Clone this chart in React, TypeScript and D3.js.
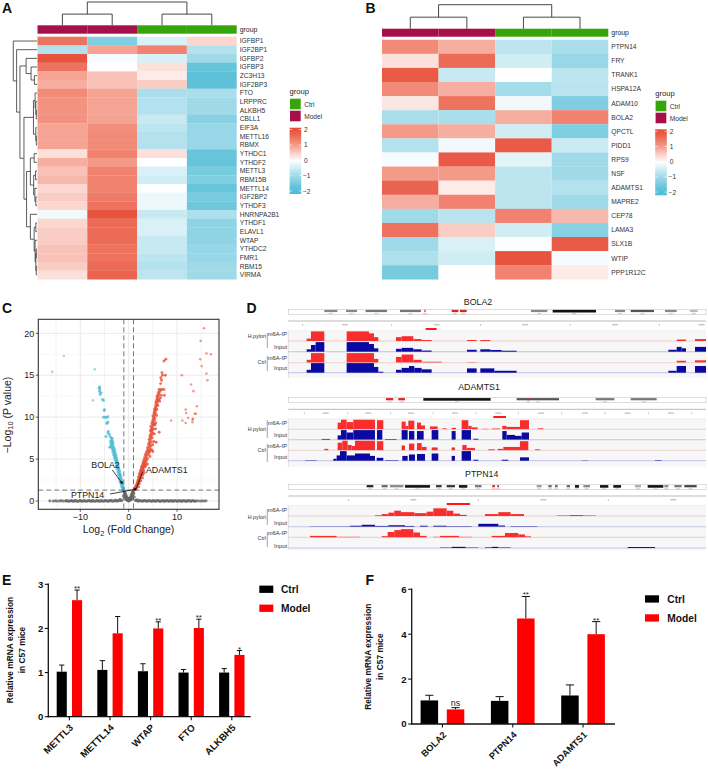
import React from "react";
import * as d3 from "d3";

const FONT = "'Liberation Sans', Arial, sans-serif";
const COL_BLUE = "#4DBBD5";
const COL_RED = "#E64B35";
const GROUP_COLORS: Record<string, string> = { Ctrl: "#36A50C", Model: "#A5104A" };

// ---------- Panel A ----------
const genesA = ["IGFBP1","IGF2BP1","IGFBP2","IGFBP3","ZC3H13","IGF2BP3","FTO","LRPPRC","ALKBH5","CBLL1","EIF3A","METTL16","RBMX","YTHDC1","YTHDF2","METTL3","RBM15B","METTL14","IGF2BP2","YTHDF3","HNRNPA2B1","YTHDF1","ELAVL1","WTAP","YTHDC2","FMR1","RBM15","VIRMA"];
const valuesA = [
  [1.5,-1.4,-0.4,0.4],[-0.8,0.9,1.3,-0.8],[1.9,-0.1,-0.4,-1.0],[1.5,0.02,0.3,-1.7],[0.9,0.6,0.2,-1.8],[0.8,0.6,0.5,-1.8],
  [1.2,0.9,-0.9,-0.9],[1.1,0.9,-0.8,-1.0],[1.1,0.9,-0.8,-1.0],[1.1,0.9,-0.6,-1.3],[0.9,1.15,-0.7,-1.1],[0.9,1.2,-0.8,-1.1],[0.9,1.2,-0.8,-1.1],
  [0.3,1.3,0.3,-1.7],[0.8,1.0,-0.02,-1.7],[0.6,1.3,-0.4,-1.5],[0.7,1.3,-0.5,-1.4],[0.4,1.3,-0.02,-1.7],[0.5,1.4,-0.2,-1.5],[0.4,1.5,-0.2,-1.6],
  [-0.15,1.9,-0.6,-0.85],[0.4,1.6,-0.4,-1.2],[0.5,1.6,-0.4,-1.2],[0.5,1.6,-0.6,-1.2],[0.6,1.5,-0.6,-1.1],[0.6,1.5,-0.7,-1.1],[0.5,1.6,-0.8,-1.0],[0.3,1.7,-0.7,-1.0],
];
const columnGroups = ["Model","Model","Ctrl","Ctrl"];
type Tree = string | number | { h: number; c: Tree[] };
const T = (h: number, ...c: Tree[]): Tree => ({ h, c });
const rowTreeA: Tree = T(1,"IGFBP1",T(0.86,"IGF2BP1",T(0.72,
  T(0.46,"IGFBP2",T(0.25,"IGFBP3",T(0.11,"ZC3H13","IGF2BP3"))),
  T(0.55,
    T(0.15,T(0.08,"FTO",T(0.05,"LRPPRC",T(0.03,"ALKBH5","CBLL1"))),T(0.05,"EIF3A",T(0.03,"METTL16","RBMX"))),
    T(0.44,
      T(0.28,T(0.12,"YTHDC1","YTHDF2"),T(0.14,T(0.06,"METTL3","RBM15B"),T(0.09,"METTL14",T(0.05,"IGF2BP2","YTHDF3")))),
      T(0.28,"HNRNPA2B1",T(0.12,T(0.05,"YTHDF1","ELAVL1"),T(0.08,"WTAP",T(0.05,T(0.03,"YTHDC2","FMR1"),T(0.03,"RBM15","VIRMA")))))
    )
  )
)));
const colTree: Tree = T(1,T(0.48,0,1),T(0.48,2,3));

// ---------- Panel B ----------
const genesB = ["PTPN14","FRY","TRANK1","HSPA12A","ADAM10","BOLA2","QPCTL","PIDD1","RPS9","NSF","ADAMTS1","MAPRE2","CEP78","LAMA3","SLX1B","WTIP","PPP1R12C"];
const valuesB = [
  [1.2,0.8,-0.7,-0.9],[0.3,1.6,-0.5,-1.1],[1.8,-0.6,0,-0.7],[1.2,0.8,-0.95,-0.75],[0.25,1.5,-0.15,-1.4],[-0.9,-0.9,0.8,1.3],
  [1.0,0.8,-0.5,-1.4],[-0.8,-0.15,1.8,-0.55],[-0.1,1.8,-0.3,-1.0],[1.0,1.0,-0.7,-1.0],[1.7,0.2,-0.7,-0.8],[0.8,1.3,-0.7,-1.0],
  [-1.0,-0.75,1.3,0.7],[1.5,0.5,-0.5,-1.3],[-1.0,-0.4,-0.05,1.8],[-0.85,-0.5,1.9,-0.1],[-1.5,0.02,1.3,0.2],
];
const legendTicks = [2,1,0,-1,-2];

// ---------- Panel C ----------
const xTicksC = [-10,0,10];
const yTicksC = [0,5,10,15,20];
const upOutliers: [number,number][] = [[15.6,20.6],[14.9,19.1],[16.1,17.6],[17,17.5],[14.8,16.9],[15.1,16.1],[16.1,15.2],[16.3,14.4],[11,15],[12.9,13.9],[13.4,13.1],[11.8,10.9],[11.9,10.5],[14.1,11.3],[13.7,10.4],[13.9,10.4],[12.3,9.9],[13.2,9.7],[11.1,9.6],[11.8,9.3],[13.2,9.4],[13.3,9.8],[8.8,9.6]];
const upArm: [number,number][] = [[1.05,1.32],[1.2,1.35],[1.35,1.4],[1.5,1.45],[1.2,1.5],[1.4,1.6],[1.6,1.55],[1.75,1.7],[1.45,1.75],[1.6,1.85],[1.85,1.9],[1.7,2.0],[1.95,2.05],[2.1,2.1],[1.8,2.2],[2.0,2.3],[2.2,2.35],[1.9,2.45],[2.3,2.5],[2.1,2.6],[2.4,2.7],[2.2,2.8],[2.0,2.85],[2.5,2.95],[2.3,3.05],[2.6,3.1],[2.4,3.2],[2.2,3.25],[2.7,3.3],[2.5,3.4],[2.8,3.5],[2.4,3.6],[2.65,3.65],[2.9,3.75],[2.6,3.85],[3.0,3.9],[2.8,4.0],[3.2,4.05],[2.7,4.15],[3.0,4.25],[3.3,4.3],[2.9,4.4],[3.2,4.5],[3.5,4.55],[3.0,4.65],[3.35,4.75],[3.7,4.8],[3.15,4.9],[3.5,5.0],[3.9,5.05],[3.3,5.15],[3.65,5.25],[4.4,5.3],[3.45,5.45],[3.85,5.5],[4.15,5.6],[3.6,5.7],[4.0,5.8],[3.75,5.95],[4.3,6.0],[4.0,6.15],[4.5,6.2],[3.9,6.35],[4.25,6.45],[4.6,6.55],[4.1,6.7],[4.45,6.8],[4.2,6.95],[4.7,7.05],[4.4,7.2],[4.25,7.35],[4.6,7.45],[4.85,7.55],[4.4,7.7],[4.7,7.8],[4.55,7.95],[5.0,8.05],[4.75,8.2],[4.5,8.35],[4.9,8.4],[4.65,8.55],[5.1,8.6],[4.85,8.75],[4.6,8.9],[5.0,9.0],[5.2,9.1],[4.8,9.25],[5.1,9.35],[4.95,9.5],[5.3,9.6],[5.05,9.75],[5.4,9.85],[5.2,10.0],[5.0,10.15],[5.4,10.25],[5.25,10.4],[5.55,10.5],[5.3,10.65],[5.5,10.8],[5.35,10.95],[5.7,11.05],[5.5,11.2],[5.8,11.35],[5.6,11.5],[5.85,11.65],[5.65,11.8],[6.0,11.9],[5.8,12.05],[6.3,12.1],[6.0,12.2],[5.85,12.4],[6.15,12.5],[6.0,12.65],[6.3,12.75],[6.75,12.6],[6.15,12.95],[6.45,13.05],[6.6,13.25],[6.3,13.3],[7.3,13.3],[6.85,13.3],[7.4,12.6],[6.6,14],[6.8,14.4],[6.65,14.7],[7.0,15],[6.9,15.3],[7.6,15],[7.3,16.7],[7.7,16.9],[5.2,7.1],[6.3,8.2],[5.6,9.3],[3.1,3.6],[3.45,4.1],[2.2,2.1],[2.9,3.1],[5.0,5.9],[5.7,7.0],[3.9,4.4],[4.8,6.1],[5.0,6.7],[5.3,8.0],[5.55,8.6],[5.8,10.2],[5.85,10.9],[6.05,11.4],[6.4,11.9],[6.6,12.3],[5.45,9.1],[4.4,5.9],[3.6,4.3],[2.05,1.7],[2.5,2.4],[2.85,2.75],[3.2,3.35]];
const downOutliers: [number,number][] = [[-13.4,17.3],[-15.8,15.4],[-7,15.7],[-7.4,12]];
const downArm: [number,number][] = [[-1.05,1.32],[-1.15,1.5],[-1.25,1.4],[-1.1,1.65],[-1.3,1.75],[-1.2,1.9],[-1.4,1.95],[-1.3,2.1],[-1.5,2.15],[-1.4,2.3],[-1.6,2.4],[-1.5,2.5],[-1.7,2.6],[-1.55,2.75],[-1.8,2.85],[-1.65,2.95],[-1.85,3.1],[-1.75,3.2],[-1.95,3.3],[-1.85,3.45],[-2.05,3.55],[-1.95,3.7],[-2.15,3.8],[-2.05,3.95],[-2.25,4.05],[-2.15,4.2],[-2.35,4.3],[-2.25,4.45],[-2.45,4.55],[-2.35,4.7],[-2.55,4.8],[-2.45,4.95],[-2.7,5.05],[-2.55,5.2],[-2.75,5.3],[-2.65,5.45],[-2.9,5.5],[-2.75,5.65],[-3.0,5.75],[-2.85,5.9],[-3.1,6.0],[-2.95,6.15],[-3.3,6.2],[-3.05,6.35],[-3.9,6.4],[-3.6,6.45],[-3.2,6.55],[-3.4,6.7],[-3.7,6.6],[-3.25,6.85],[-3.5,6.95],[-3.3,7.1],[-3.55,7.25],[-3.4,7.45],[-4.7,7.7],[-4.3,8.1],[-4.0,7.95],[-4.2,8.3],[-4.5,9.3],[-4.3,9.4],[-4.5,9.25],[-5.2,10],[-4.9,10],[-4.6,9.95],[-4.3,10.05],[-5.0,10.9],[-5.05,10.8],[-5.2,12],[-5.4,12.1],[-5.9,12.7],[-5.7,12.9],[-6,13.6],[-6.1,13.45],[-5.95,13.25],[-6.05,13.05],[-1.2,1.35],[-1.45,1.7],[-1.6,2.05],[-1.8,2.3],[-1.95,2.7],[-2.1,3.1],[-2.25,3.45],[-2.4,3.85],[-2.55,4.2],[-2.7,4.55],[-2.8,4.9],[-2.95,5.2],[-3.1,5.5],[-3.25,5.8],[-3.35,6.1],[-3.5,6.4],[-3.65,6.85],[-3.75,7.1],[-3.6,7.5],[-3.85,7.7]];
const grayPoints: [number,number][] = [[-16.3,0.02],[-15.6,0],[-15.2,0.03],[-14.8,0],[-14.3,0.01],[-13.9,0.04],[-13.5,0],[-13,0.02],[-12.6,0],[-12.1,0.03],[-11.7,0],[-11.2,0.02],[-10.8,0.01],[-10.3,0],[-9.9,0.03],[-9.4,0],[-9,0.02],[-8.5,0],[-8.1,0.04],[-7.6,0.01],[-7.2,0],[-6.7,0.03],[-6.3,0],[-5.8,0.02],[-5.4,0],[-4.9,0.05],[-4.5,0],[-4,0.02],[-3.6,0.08],[-3.1,0],[-2.7,0.1],[-2.2,0.05],[-1.8,0.2],[-1.4,0.1],[-1.1,0.6],[-0.95,1.25],[-0.9,1.05],[-0.85,0.85],[-0.8,1.1],[-0.75,0.7],[-0.7,0.9],[-0.65,0.55],[-0.6,0.75],[-0.55,0.4],[-0.5,0.6],[-0.45,0.25],[-0.4,0.45],[-0.35,0.15],[-0.3,0.3],[-0.25,0.1],[-0.2,0.2],[-0.1,0.05],[-0.6,0.2],[-0.8,0.4],[0,0.02],[0.1,0.06],[0.2,0.2],[0.25,0.1],[0.3,0.3],[0.35,0.15],[0.4,0.45],[0.45,0.25],[0.5,0.6],[0.55,0.4],[0.6,0.75],[0.65,0.55],[0.7,0.9],[0.75,0.7],[0.8,1.1],[0.85,0.85],[0.9,1.05],[0.95,1.25],[1.05,0.9],[1.15,0.5],[0.6,0.2],[0.8,0.4],[1.4,0.1],[1.8,0.15],[2.2,0.05],[2.7,0],[3.1,0.06],[3.6,0],[4,0.03],[4.5,0],[4.9,0.02],[5.4,0],[5.8,0.03],[6.3,0.01],[6.7,0],[7.2,0.02],[7.6,0],[8.1,0.03],[8.5,0.01],[9,0],[9.4,0.02],[9.9,0],[10.3,0.03],[10.8,0],[11.2,0.02],[11.7,0],[12.1,0.01],[12.6,0.03],[13,0],[13.5,0.02],[13.9,0],[14.3,0.03],[14.8,0],[15.2,0.02],[15.6,0],[16,0.03],[-0.05,0.12],[0.05,0.2],[-0.15,0.3],[0.15,0.35],[-12.85,0.05],[-12.35,-0.03],[-11.9,0.06],[-11.45,-0.02],[-11,0.05],[-10.55,-0.03],[-10.1,0.06],[-9.65,-0.02],[-9.2,0.05],[-8.75,-0.03],[-8.3,0.06],[-7.85,-0.02],[-7.4,0.05],[-6.95,-0.03],[-6.5,0.06],[-6.05,-0.02],[-5.6,0.05],[-5.15,-0.03],[-4.7,0.06],[-4.25,-0.02],[-3.85,0.05],[-3.35,-0.03],[-2.9,0.06],[-2.45,-0.02],[-2,0.05],[-1.6,0.04],[1.6,0.05],[2,-0.02],[2.45,0.06],[2.9,-0.03],[3.35,0.05],[3.8,-0.02],[4.25,0.06],[4.7,-0.03],[5.15,0.05],[5.6,-0.02],[6.05,0.06],[6.5,-0.03],[6.95,0.05],[7.4,-0.02],[7.85,0.06],[8.3,-0.03],[8.75,0.05],[9.2,-0.02],[9.65,0.06],[10.1,-0.03],[10.55,0.05],[11,-0.02],[11.45,0.06],[11.9,-0.03],[12.35,0.05],[12.85,-0.02],[13.3,0.06],[13.7,-0.03]];
const labeledGenes = [
  { name: "BOLA2", x: -1.45, y: 2.2 },
  { name: "ADAMTS1", x: 1.55, y: 1.45 },
  { name: "PTPN14", x: 1.35, y: 1.4 },
];

// ---------- Panel D ----------
type Seg = [number, number, number];
type Band = [number, number, string];
const genomeDomain = [100, 1353];
const bolaIdeogram: Band[] = [[208,247,"#888"],[273,306,"#888"],[332,396,"#777"],[435,498,"#777"],[508,512,"#e33"],[590,610,"#d22"],[615,635,"#d22"],[828,877,"#888"],[893,1023,"#111"],[1080,1110,"#888"],[1127,1197,"#555"],[1230,1265,"#888"],[1305,1328,"#bbb"]];
const adamIdeogram: Band[] = [[393,415,"#d22"],[430,450,"#d22"],[505,707,"#111"],[785,912,"#555"],[818,822,"#d22"],[1022,1078,"#777"],[1127,1205,"#777"]];
const ptpnIdeogram: Band[] = [[335,355,"#222"],[380,398,"#666"],[405,445,"#888"],[450,525,"#111"],[543,560,"#333"],[575,600,"#333"],[612,637,"#111"],[660,680,"#777"],[712,720,"#d22"],[727,732,"#d22"],[845,860,"#999"],[880,890,"#666"],[900,908,"#666"],[935,945,"#666"],[960,972,"#111"],[985,1005,"#888"],[1035,1060,"#111"],[1075,1098,"#111"],[1140,1158,"#aaa"],[1178,1225,"#111"],[1228,1240,"#888"],[1258,1280,"#777"],[1288,1325,"#444"]];
const bolaRuler = [143,410,677,945,1213];
const bolaRulerDash = [270,545,810,1080,1340];
const adamRuler = [148,278,407,535,663,790,920,1050,1180,1310];
const adamRulerDash = [212,340,468,600,730,858,990,1118,1248];
const ptpnRuler = [281,670,1060];
const ptpnRulerDash = [475,865,1255];
const bolaHpIp: Seg[] = [[155,168,.25],[168,208,1],[275,342,1],[342,357,.8],[357,370,.4],[423,440,.4],[440,475,.5],[475,500,.2],[500,530,.1],[636,665,.1],[676,706,.1],[1265,1293,.15],[1320,1353,.2]];
const bolaHpIn: Seg[] = [[155,168,.25],[168,182,.7],[182,208,1],[275,342,1],[342,357,.8],[357,370,.35],[423,440,.3],[440,475,.4],[475,500,.25],[500,530,.12],[636,665,.2],[676,706,.25],[706,740,.18],[740,785,.1],[1240,1265,.2],[1265,1280,.5],[1280,1293,.35],[1320,1353,.5]];
const bolaCtIp: Seg[] = [[155,168,.3],[168,208,1],[275,357,1],[357,370,.4],[423,440,.6],[440,475,.85],[475,500,.3],[500,560,.1],[636,665,.05],[1265,1293,.2],[1320,1353,.25]];
const bolaCtIn: Seg[] = [[155,168,.3],[168,208,1],[275,357,1],[357,370,.6],[370,385,.1],[423,440,.3],[440,462,.5],[462,478,.7],[478,500,.5],[500,530,.35],[636,665,.45],[676,718,.45],[718,785,.2],[1240,1265,.2],[1265,1293,.7],[1320,1353,.7]];
const adamHpIp: Seg[] = [[248,258,.7],[258,275,1],[275,295,.75],[295,360,1],[366,385,.95],[440,452,.8],[452,460,.35],[460,478,.9],[486,498,.7],[498,510,.4],[525,548,.3],[562,575,.1],[590,603,.15],[620,640,.95],[640,650,.35],[650,668,.2],[680,700,.05],[710,735,.08],[742,755,.35],[755,795,.25],[795,822,.95],[848,865,.1]];
const adamHpIn: Seg[] = [[200,225,.08],[248,258,.45],[258,275,1],[275,295,.75],[295,360,1],[366,382,1],[390,425,.07],[440,458,1],[462,478,.9],[486,506,.9],[530,550,1],[590,602,.9],[620,648,1],[655,670,.1],[742,755,.9],[755,780,.5],[780,800,.4],[800,822,.75]];
const adamCtIp: Seg[] = [[208,220,.15],[248,262,.8],[262,278,1],[278,290,.55],[290,300,.45],[300,360,1],[366,385,.95],[440,450,.5],[462,478,.7],[486,500,.75],[500,515,.35],[530,548,.3],[590,600,.3],[622,635,.55],[635,660,.25],[700,720,.1],[728,745,.15],[745,795,.35],[795,820,.95],[840,855,.1]];
const adamCtIn: Seg[] = [[150,185,.04],[235,245,.2],[245,255,.55],[255,275,1],[275,300,.55],[300,345,.75],[345,360,.5],[365,385,.3],[390,430,.05],[442,458,.5],[462,480,.65],[486,510,.7],[530,550,.75],[590,600,.5],[620,648,1],[655,670,.1],[740,760,.1],[795,822,.35],[980,1000,.03],[1200,1220,.05]];
const ptpnHpIp: Seg[] = [[360,380,.07],[380,400,.2],[400,418,.35],[418,438,.55],[438,478,.4],[478,515,.3],[515,535,.45],[535,575,.8],[575,595,.55],[595,615,.25],[615,635,.12],[690,730,.2],[730,767,.4],[767,807,.2],[905,945,.05],[945,985,.1],[985,1022,.05]];
const ptpnHpIn: Seg[] = [[165,285,.03],[285,320,.1],[320,360,.2],[360,400,.08],[400,450,.15],[450,478,.08],[495,518,.1],[535,575,.1],[575,650,.05],[670,730,.3],[730,750,.12],[767,847,.05]];
const ptpnCtIp: Seg[] = [[165,245,.15],[245,315,.05],[380,398,.12],[398,418,.55],[418,438,.75],[438,475,.85],[475,495,.5],[495,515,.15],[535,555,.05],[555,612,.15],[612,650,.05],[710,750,.15],[750,790,.45],[790,810,.3],[810,828,.1]];
const ptpnCtIn: Seg[] = [[555,590,.04],[590,632,.12],[632,670,.04],[690,710,.06],[710,730,.12],[730,767,.05],[1118,1200,.1]];

// ---------- Panels E, F ----------
const catsE = ["METTL3","METTL14","WTAP","FTO","ALKBH5"];
const ctrlE = [1.02,1.06,1.03,1.0,1.0];
const ctrlErrE = [1.17,1.27,1.2,1.07,1.09];
const modelE = [2.64,1.89,2.0,2.01,1.4];
const modelErrE = [2.87,2.27,2.15,2.21,1.5];
const sigE = ["**","","**","**","*"];
const ticksE = [0,1,2,3];
const catsF = ["BOLA2","PTPN14","ADAMTS1"];
const ctrlF = [1.05,1.03,1.27];
const ctrlErrF = [1.28,1.22,1.74];
const modelF = [0.65,4.7,4.0];
const modelErrF = [0.73,5.68,4.56];
const sigF = ["ns","**","**"];
const ticksF = [0,2,4,6];

const heatColor = d3.scaleLinear<string>().domain([-2,-1,0,1,2]).range([COL_BLUE,"#A0DAE9","#FFFFFF","#F49A88",COL_RED]).clamp(true);
const fmt = (v: number) => (v < 0 ? "\u2212" + Math.abs(v) : String(v));

// Elbow dendrogram; pos gives the leaf coordinate, hs the height coordinate
function dendroPath(tree: Tree, pos: (leaf: any) => number, hs: (h: number) => number, horizontal: boolean) {
  const p = d3.path();
  const line = (a: number, ah: number, b: number, bh: number) => {
    if (horizontal) { p.moveTo(a, ah); p.lineTo(b, bh); } else { p.moveTo(ah, a); p.lineTo(bh, b); }
  };
  const walk = (n: Tree): [number, number] => {
    if (typeof n !== "object") return [pos(n), hs(0)];
    const kids = n.c.map(walk);
    const h = hs(n.h);
    const first = kids[0][0], last = kids[kids.length - 1][0];
    kids.forEach(([c, ch]) => line(c, ch, c, h));
    line(first, h, last, h);
    return [(first + last) / 2, h];
  };
  walk(tree);
  return p.toString();
}

function HeatLegend({ x, titleY, swY, cbTop, cbBottom, zeroY, unit }: any) {
  const yS = d3.scaleLinear().domain([0, 1]).range([zeroY, zeroY - unit]);
  const id = `cb${Math.round(x)}`;
  const h = cbBottom - cbTop;
  const vTop = (zeroY - cbTop) / unit, vBot = (zeroY - cbBottom) / unit;
  return (
    <g fontFamily={FONT}>
      <text x={x} y={titleY} fontSize={7.6} fill="#222">group</text>
      {["Ctrl","Model"].map((g, i) => (
        <g key={g}>
          <rect x={x + 0.4} y={swY + i * 12} width={10.7} height={10.6} fill={GROUP_COLORS[g]} />
          <text x={x + 14.6} y={swY + i * 12 + 8} fontSize={6.6} fill="#333">{g}</text>
        </g>
      ))}
      <defs>
        <linearGradient id={id} x1="0" y1="0" x2="0" y2="1">
          {d3.range(0, 11).map((i) => {
            const v = vTop + (vBot - vTop) * (i / 10);
            return <stop key={i} offset={`${i * 10}%`} stopColor={heatColor(v)} />;
          })}
        </linearGradient>
      </defs>
      <rect x={x} y={cbTop} width={11.6} height={h} fill={`url(#${id})`} />
      {legendTicks.map((t) => (
        <g key={t}>
          <line x1={x} x2={x + 2.3} y1={yS(t)} y2={yS(t)} stroke="#fff" strokeWidth={0.6} />
          <line x1={x + 9.3} x2={x + 11.6} y1={yS(t)} y2={yS(t)} stroke="#fff" strokeWidth={0.6} />
          <text x={t < 0 ? x + 13.4 : x + 14.5} y={yS(t) + 2.4} fontSize={6.6} fill="#333">{fmt(t)}</text>
        </g>
      ))}
    </g>
  );
}

function Heatmap({ genes, values, x0, x1, annTop, annBottom, rowTop, rowBottom, colTreeTop, leafRowTree, fontSize }: any) {
  const xS = d3.scaleBand<number>().domain(d3.range(4)).range([x0, x1]);
  const yS = d3.scaleBand<string>().domain(genes).range([rowTop, rowBottom]);
  const colHs = d3.scaleLinear().domain([0, 1]).range([annTop, colTreeTop]);
  const cx = (i: number) => (xS(i) as number) + xS.bandwidth() / 2;
  return (
    <g fontFamily={FONT}>
      <path d={dendroPath(colTree, cx, colHs, true)} fill="none" stroke="#333" strokeWidth={0.9} />
      {columnGroups.map((g, i) => (
        <rect key={i} x={xS(i)} y={annTop} width={xS.bandwidth()} height={annBottom - annTop} fill={GROUP_COLORS[g]} />
      ))}
      <text x={x1 + 3} y={(annTop + annBottom) / 2 + 2.4} fontSize={6.9} fill="#222">group</text>
      {values.map((row: number[], r: number) => (
        <g key={genes[r]}>
          {row.map((v, c) => (
            <rect key={c} x={xS(c)} y={yS(genes[r])} width={xS.bandwidth()} height={yS.bandwidth() + 0.2} fill={heatColor(v)} />
          ))}
          <text x={x1 + 3} y={(yS(genes[r]) as number) + yS.bandwidth() / 2 + 2.4} fontSize={fontSize} fill="#333">{genes[r]}</text>
        </g>
      ))}
      {leafRowTree && (
        <path
          d={dendroPath(leafRowTree, (g: string) => (yS(g) as number) + yS.bandwidth() / 2, d3.scaleLinear().domain([0, 1]).range([37, 13.3]), false)}
          fill="none" stroke="#333" strokeWidth={0.8}
        />
      )}
    </g>
  );
}

function Volcano() {
  const x = d3.scaleLinear().domain([-10, 10]).range([80.3, 177]);
  const y = d3.scaleLinear().domain([0, 20]).range([501, 333.3]);
  const L = 38.3, R = 219, Tp = 319.3, B = 509.3;
  const minorY = [2.5,7.5,12.5,17.5];
  return (
    <g fontFamily={FONT}>
      <rect x={L} y={Tp} width={R - L} height={B - Tp} fill="#fff" />
      {minorY.map((v) => <line key={v} x1={L} x2={R} y1={y(v)} y2={y(v)} stroke="#f3f3f3" strokeWidth={0.6} />)}
      {[-15,-5,5,15].map((v) => <line key={v} x1={x(v)} x2={x(v)} y1={Tp} y2={B} stroke="#ececec" strokeWidth={0.7} />)}
      {xTicksC.map((v) => <line key={v} x1={x(v)} x2={x(v)} y1={Tp} y2={B} stroke="#e8e8e8" strokeWidth={0.9} />)}
      {yTicksC.map((v) => <line key={v} x1={L} x2={R} y1={y(v)} y2={y(v)} stroke="#e8e8e8" strokeWidth={0.9} />)}
      {grayPoints.map((p, i) => <circle key={i} cx={x(p[0])} cy={y(p[1])} r={1.6} fill="#666" fillOpacity={0.75} />)}
      {downArm.map((p, i) => <circle key={i} cx={x(p[0])} cy={y(p[1])} r={1.45} fill={COL_BLUE} fillOpacity={0.8} />)}
      {downOutliers.map((p, i) => <circle key={i} cx={x(p[0])} cy={y(p[1])} r={1.3} fill={COL_BLUE} fillOpacity={0.55} />)}
      {upArm.map((p, i) => <circle key={i} cx={x(p[0])} cy={y(p[1])} r={1.45} fill={COL_RED} fillOpacity={0.8} />)}
      {upOutliers.map((p, i) => <circle key={i} cx={x(p[0])} cy={y(p[1])} r={1.3} fill={COL_RED} fillOpacity={0.55} />)}
      {[-1, 1].map((v) => <line key={v} x1={x(v)} x2={x(v)} y1={Tp} y2={B} stroke="#666" strokeWidth={0.9} strokeDasharray="5 3" />)}
      <line x1={L} x2={R} y1={y(1.3)} y2={y(1.3)} stroke="#666" strokeWidth={0.9} strokeDasharray="5 3" />
      <rect x={L} y={Tp} width={R - L} height={B - Tp} fill="none" stroke="#333" strokeWidth={1.1} />
      {xTicksC.map((v) => (
        <g key={v}>
          <line x1={x(v)} x2={x(v)} y1={B} y2={B + 2.5} stroke="#333" strokeWidth={0.8} />
          <text x={x(v)} y={B + 11} fontSize={9} textAnchor="middle" fill="#222">{fmt(v)}</text>
        </g>
      ))}
      {yTicksC.map((v) => (
        <g key={v}>
          <line x1={L - 2.5} x2={L} y1={y(v)} y2={y(v)} stroke="#333" strokeWidth={0.8} />
          <text x={L - 4} y={y(v) + 3.2} fontSize={9} textAnchor="end" fill="#222">{v}</text>
        </g>
      ))}
      <text x={128.5} y={533} fontSize={10.5} textAnchor="middle" fill="#222">
        Log<tspan dy={2.5} fontSize={7.5}>2</tspan><tspan dy={-2.5}> (Fold Change)</tspan>
      </text>
      <text transform="translate(10.5,415) rotate(-90)" fontSize={10.5} textAnchor="middle" fill="#222">
        {"\u2212Log"}<tspan dy={2.5} fontSize={7.5}>10</tspan><tspan dy={-2.5}> (P value)</tspan>
      </text>
      <line x1={112.3} y1={470} x2={x(labeledGenes[0].x)} y2={y(labeledGenes[0].y)} stroke="#111" strokeWidth={0.8} />
      <circle cx={x(labeledGenes[0].x)} cy={y(labeledGenes[0].y)} r={1.2} fill="#111" />
      <line x1={142.7} y1={471.7} x2={x(labeledGenes[1].x)} y2={y(labeledGenes[1].y)} stroke="#111" strokeWidth={0.8} />
      <line x1={110} y1={494} x2={x(labeledGenes[2].x)} y2={y(labeledGenes[2].y)} stroke="#111" strokeWidth={0.8} />
      <circle cx={x(labeledGenes[2].x)} cy={y(labeledGenes[2].y)} r={1.2} fill="#111" />
      <text x={105.5} y={468} fontSize={8.8} textAnchor="middle" fill="#222">BOLA2</text>
      <text x={146} y={472.5} fontSize={8.8} fill="#222">ADAMTS1</text>
      <text x={71} y={497.5} fontSize={8.8} fill="#222">PTPN14</text>
    </g>
  );
}

const xG = d3.scaleLinear().domain(genomeDomain).range([288.3, 706]);
function Igv({ title, titleX, titleY, ideoY, rulerY, rulerTicks, rulerDash, mark, markY, bgTop, bgBottom, bands, tracks, labelYs, brackets, hY, cY }: any) {
  const trackH = 9.6;
  return (
    <g fontFamily={FONT}>
      <text x={titleX} y={titleY} fontSize={8.8} textAnchor="middle" fill="#222">{title}</text>
      <rect x={288.3} y={ideoY} width={417.7} height={5} fill="#fff" stroke="#bbb" strokeWidth={0.5} />
      {bands.map((b: Band, i: number) => (
        <rect key={i} x={xG(b[0])} y={ideoY + 0.5} width={xG(b[1]) - xG(b[0])} height={b[2] === "#111" ? 2.6 : 2.2} fill={b[2]} />
      ))}
      {bands.map((b: Band, i: number) => (
        <line key={i} x1={xG((b[0] + b[1]) / 2) - 2} x2={xG((b[0] + b[1]) / 2) + 2} y1={ideoY + 4.2} y2={ideoY + 4.2} stroke="#aaa" strokeWidth={0.6} />
      ))}
      <line x1={288.3} x2={706} y1={rulerY} y2={rulerY} stroke="#777" strokeWidth={0.5} />
      {rulerTicks.map((t: number) => <line key={t} x1={xG(t)} x2={xG(t)} y1={rulerY + 3} y2={rulerY + 5} stroke="#888" strokeWidth={0.5} />)}
      {rulerDash.map((t: number) => <line key={t} x1={xG(t) - 3} x2={xG(t) + 3} y1={rulerY + 3.8} y2={rulerY + 3.8} stroke="#999" strokeWidth={0.8} />)}
      <rect x={xG(mark[0])} y={markY - 0.9} width={xG(mark[1]) - xG(mark[0])} height={1.8} fill="#f00" />
      <rect x={288.3} y={bgTop} width={417.7} height={bgBottom - bgTop} fill="#f7f7f7" />
      <line x1={288.3} x2={288.3} y1={bgTop} y2={bgBottom} stroke="#ccc" strokeWidth={0.6} />
      {tracks.map((t: any, i: number) => {
        const y = d3.scaleLinear().domain([0, 1]).range([t.base, t.base - trackH]);
        const color = i % 2 === 0 ? "#FA2D2D" : "#0A0AA0";
        return (
          <g key={i}>
            <line x1={288.3} x2={706} y1={t.base} y2={t.base} stroke={i % 2 === 0 ? "#F6BEBE" : "#B8B8E6"} strokeWidth={0.8} />
            <line x1={288.3} x2={706} y1={y(1) - 0.6} y2={y(1) - 0.6} stroke="#e4e4e4" strokeWidth={0.4} />
            {t.segs.map((s: Seg, j: number) => (
              <rect key={j} x={xG(s[0])} y={y(s[2])} width={xG(s[1]) - xG(s[0])} height={t.base - y(s[2])} fill={color} />
            ))}
          </g>
        );
      })}
      {["m6A-IP","Input","m6A-IP","Input"].map((l, i) => (
        <text key={i} x={287} y={labelYs[i] + 2} fontSize={5.8} textAnchor="end" fill="#333">{l}</text>
      ))}
      {brackets.map((b: number[], i: number) => <line key={i} x1={267.3} x2={267.3} y1={b[0]} y2={b[1]} stroke="#666" strokeWidth={0.6} />)}
      <text x={266} y={hY + 2} fontSize={5.4} textAnchor="end" fill="#333">H.pylori</text>
      <text x={266} y={cY + 2} fontSize={5.4} textAnchor="end" fill="#333">Ctrl</text>
    </g>
  );
}

function BarPanel({ cats, ctrl, ctrlErr, model, modelErr, sig, ticks, yMax, axisX, axisEnd, y0, yTop, bandRange, barW, offset, capW, tickFont, catFont, labelX1, labelX2, labelY, legendX, legendY, legendTextX }: any) {
  const x = d3.scaleBand<string>().domain(cats).range(bandRange);
  const y = d3.scaleLinear().domain([0, yMax]).range([y0, yTop]);
  const bars = (vals: number[], errs: number[], dx: number, color: string, key: string) =>
    vals.map((v, i) => {
      const c = (x(cats[i]) as number) + x.bandwidth() / 2 + dx;
      return (
        <g key={key + i}>
          <line x1={c} x2={c} y1={y(v)} y2={y(errs[i])} stroke="#111" strokeWidth={1} />
          <line x1={c - capW / 2} x2={c + capW / 2} y1={y(errs[i])} y2={y(errs[i])} stroke="#111" strokeWidth={1} />
          <rect x={c - barW / 2} y={y(v)} width={barW} height={y0 - y(v)} fill={color} />
        </g>
      );
    });
  return (
    <g fontFamily={FONT}>
      {bars(ctrl, ctrlErr, -offset, "#000", "c")}
      {bars(model, modelErr, offset, "#FF0000", "m")}
      {sig.map((s: string, i: number) => {
        const c = (x(cats[i]) as number) + x.bandwidth() / 2 + offset;
        return s === "ns"
          ? <text key={i} x={c} y={y(modelErr[i]) - 2} fontSize={9} textAnchor="middle" fill="#222">{s}</text>
          : <text key={i} x={c} y={y(modelErr[i]) + 1} fontSize={8} textAnchor="middle" fill="#222">{s}</text>;
      })}
      <line x1={axisX} x2={axisX} y1={y0 + 0.7} y2={yTop - 0.7} stroke="#111" strokeWidth={1.3} />
      <line x1={axisX} x2={axisEnd} y1={y0} y2={y0} stroke="#111" strokeWidth={1.3} />
      {ticks.map((t: number) => (
        <g key={t}>
          <line x1={axisX - 3.5} x2={axisX} y1={y(t)} y2={y(t)} stroke="#111" strokeWidth={1.1} />
          <text x={axisX - 5} y={y(t) + 3.4} fontSize={tickFont} fontWeight="bold" textAnchor="end" fill="#111">{t}</text>
        </g>
      ))}
      {cats.map((c: string) => {
        const cx = (x(c) as number) + x.bandwidth() / 2;
        return (
          <g key={c}>
            <line x1={cx} x2={cx} y1={y0} y2={y0 + 3.5} stroke="#111" strokeWidth={1.1} />
            <text transform={`translate(${cx + 4.5},${y0 + 11.5}) rotate(-45)`} fontSize={catFont} fontWeight="bold" textAnchor="end" fill="#111">{c}</text>
          </g>
        );
      })}
      <text transform={`translate(${labelX1},${labelY}) rotate(-90)`} fontSize={8.4} fontWeight="bold" textAnchor="middle" fill="#111">Relative mRNA expression</text>
      <text transform={`translate(${labelX2},${labelY}) rotate(-90)`} fontSize={8.4} fontWeight="bold" textAnchor="middle" fill="#111">in C57 mice</text>
      {["Ctrl","Model"].map((g, i) => (
        <g key={g}>
          <rect x={legendX} y={legendY + i * 19} width={14} height={7.3} fill={i === 0 ? "#000" : "#FF0000"} />
          <text x={legendTextX} y={legendY + i * 19 + 7.3} fontSize={10.2} fontWeight="bold" fill="#111">{g}</text>
        </g>
      ))}
    </g>
  );
}

const panelLetters: [string, number, number][] = [["A",2,12.5],["B",365.5,12.5],["C",2,313],["D",246.5,313],["E",2,584.5],["F",365.5,585]];

export default function App() {
  return (
    <svg width={708} height={774} style={{ position: "absolute", left: 0, top: 0, background: "#fff" }}>
      {panelLetters.map(([l, x, y]) => (
        <text key={l} x={x} y={y} fontFamily={FONT} fontSize={14} fontWeight="bold" fill="#111">{l}</text>
      ))}
      <Heatmap genes={genesA} values={valuesA} x0={37.5} x1={236.7} annTop={25.3} annBottom={33.7} rowTop={36.7} rowBottom={279.3} colTreeTop={2} leafRowTree={rowTreeA} fontSize={6.7} />
      <HeatLegend x={289.6} titleY={93.6} swY={98.7} cbTop={127.7} cbBottom={194} zeroY={160.3} unit={15.4} />
      <Heatmap genes={genesB} values={valuesB} x0={382} x1={608.3} annTop={28.7} annBottom={36.7} rowTop={39.7} rowBottom={279.3} colTreeTop={4.7} leafRowTree={null} fontSize={6.7} />
      <HeatLegend x={655.2} titleY={95.6} swY={100.7} cbTop={129.3} cbBottom={195.3} zeroY={161.7} unit={15.2} />
      <Volcano />
      <Igv title="BOLA2" titleX={478} titleY={304.6} ideoY={309.4} rulerY={321} rulerTicks={bolaRuler} rulerDash={bolaRulerDash} mark={[512,545]} markY={329} bgTop={330.5} bgBottom={378} bands={bolaIdeogram}
        tracks={[{ base: 341, segs: bolaHpIp },{ base: 351.7, segs: bolaHpIn },{ base: 362.7, segs: bolaCtIp },{ base: 372.7, segs: bolaCtIn }]}
        labelYs={[334,346.7,357.7,368.3]} brackets={[[333,348],[356,371]]} hY={336} cY={362} />
      <Igv title="ADAMTS1" titleX={479} titleY={390} ideoY={397.6} rulerY={409.3} rulerTicks={adamRuler} rulerDash={adamRulerDash} mark={[715,753]} markY={417} bgTop={418.3} bgBottom={466.7} bands={adamIdeogram}
        tracks={[{ base: 429.3, segs: adamHpIp },{ base: 439.7, segs: adamHpIn },{ base: 450.3, segs: adamCtIp },{ base: 460.7, segs: adamCtIn }]}
        labelYs={[423.3,435,446,457]} brackets={[[420,438],[444,462]]} hY={429} cY={450} />
      <Igv title="PTPN14" titleX={481.7} titleY={477.4} ideoY={484.6} rulerY={496} rulerTicks={ptpnRuler} rulerDash={ptpnRulerDash} mark={[575,645]} markY={504} bgTop={505.3} bgBottom={550} bands={ptpnIdeogram}
        tracks={[{ base: 516, segs: ptpnHpIp },{ base: 526.7, segs: ptpnHpIn },{ base: 537.3, segs: ptpnCtIp },{ base: 548, segs: ptpnCtIn }]}
        labelYs={[510,522.7,533,546]} brackets={[[509,525],[532,547]]} hY={517} cY={538} />
      <BarPanel cats={catsE} ctrl={ctrlE} ctrlErr={ctrlErrE} model={modelE} modelErr={modelErrE} sig={sigE} ticks={ticksE} yMax={3}
        axisX={48.3} axisEnd={250.7} y0={716.7} yTop={584.3} bandRange={[49.1, 252.1]} barW={10.1} offset={7.65} capW={5.2} tickFont={9.6} catFont={9.6}
        labelX1={12.5} labelX2={24.5} labelY={650} legendX={259.3} legendY={585.6} legendTextX={281} />
      <BarPanel cats={catsF} ctrl={ctrlF} ctrlErr={ctrlErrF} model={modelF} modelErr={modelErrF} sig={sigF} ticks={ticksF} yMax={6}
        axisX={411.7} axisEnd={615} y0={724} yTop={589.3} bandRange={[407.3, 618.2]} barW={17.5} offset={13.1} capW={8.2} tickFont={9.6} catFont={9.2}
        labelX1={371} labelX2={383} labelY={656.7} legendX={645} legendY={595.3} legendTextX={667.3} />
    </svg>
  );
}
